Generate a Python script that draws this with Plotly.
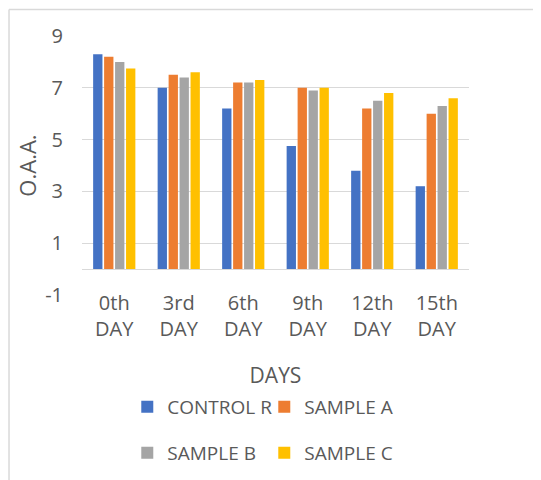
import plotly.graph_objects as go

days = ["0th<br>DAY", "3rd<br>DAY", "6th<br>DAY", "9th<br>DAY", "12th<br>DAY", "15th<br>DAY"]
control_r = [8.3, 7.0, 6.2, 4.75, 3.8, 3.2]
sample_a = [8.2, 7.5, 7.2, 7.0, 6.2, 6.0]
sample_b = [8.0, 7.4, 7.2, 6.9, 6.5, 6.3]
sample_c = [7.75, 7.6, 7.3, 7.0, 6.8, 6.6]
y_ticks = [-1, 1, 3, 5, 7, 9]
y_tick_labels = ["-1", "1", "3", "5", "7", "9"]

series = [
    ("CONTROL R", control_r, "#4472C4", "legend"),
    ("SAMPLE A", sample_a, "#ED7D31", "legend"),
    ("SAMPLE B", sample_b, "#A5A5A5", "legend2"),
    ("SAMPLE C", sample_c, "#FFC000", "legend2"),
]

txt = "#595959"
grid = "#D9D9D9"
font = "Open Sans"

fig = go.Figure()
for name, vals, color, lg in series:
    fig.add_trace(go.Bar(x=days, y=vals, name=name, marker=dict(color=color, line=dict(width=0)),
                         legend=lg))

legend_common = dict(orientation="h", font=dict(family=font, size=19, color=txt),
                     entrywidth=92, entrywidthmode="pixels", bgcolor="rgba(0,0,0,0)",
                     xanchor="left", yanchor="middle", tracegroupgap=0)

# the page body adds an 8px offset, so margins are reduced by 8 on left/top
fig.update_layout(
    width=541, height=480,
    margin=dict(l=74, r=80, t=28, b=193, autoexpand=False),
    paper_bgcolor="white", plot_bgcolor="white",
    font=dict(family=font, color=txt, size=20),
    barmode="group", bargap=0.32, bargroupgap=0.15,
    showlegend=True,
    legend=dict(x=0.117, y=-0.432, **legend_common),
    legend2=dict(x=0.117, y=-0.610, **legend_common),
    xaxis=dict(
        automargin=False,
        showgrid=False, showline=False, ticks="", ticklabelstandoff=-6,
        tickfont=dict(family=font, size=20, color=txt),
        title=dict(text="DAYS", font=dict(family=font, size=21, color=txt), standoff=27),
    ),
    yaxis=dict(
        automargin=False,
        range=[-1, 9], tickvals=y_ticks, ticktext=y_tick_labels,
        showgrid=True, gridcolor=grid, gridwidth=1.3,
        zeroline=True, zerolinecolor=grid, zerolinewidth=1.3,
        showline=False, ticks="", ticklabelstandoff=18,
        tickfont=dict(family=font, size=20, color=txt),
        title=dict(text="O.A.A.", font=dict(family=font, size=22, color=txt), standoff=2),
    ),
    shapes=[
        dict(type="line", xref="paper", yref="paper", x0=-0.1886, x1=2, y0=1.102, y1=1.102,
             line=dict(color=grid, width=1.5), layer="below"),
        dict(type="line", xref="paper", yref="paper", x0=-0.1886, x1=-0.1886, y0=1.102, y1=-2,
             line=dict(color=grid, width=1.5), layer="below"),
    ],
)

fig.write_html("out.html")
